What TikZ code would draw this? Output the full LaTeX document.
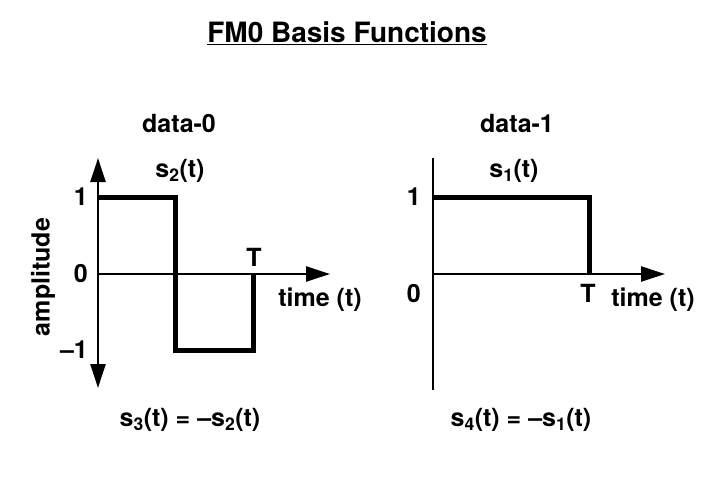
\documentclass[tikz,border=0pt]{standalone}
\usepackage{fontspec}
\setmainfont{TeX Gyre Heros}
\usetikzlibrary{arrows.meta}
\usetikzlibrary{positioning}

\tikzset{
  lbl/.style={font=\fontsize{25}{29}\selectfont\bfseries, inner sep=0pt},
  ttl/.style={font=\fontsize{28}{32}\selectfont\bfseries, inner sep=0pt},
  axisline/.style={line width=2.5pt},
  axisarrow/.style={axisline, -{Triangle[length=24pt,width=15pt]}},
  bothaxis/.style={axisline, {Triangle[length=24pt,width=15pt]}-{Triangle[length=24pt,width=15pt]}},
  signal/.style={line width=5pt, line cap=butt, line join=miter}
}

\begin{document}
\begin{tikzpicture}[x=1pt, y=-1pt]
\useasboundingbox (0,0) rectangle (708,480);

% Title
\node[ttl] (title) at (347,33) {\underline{FM0 Basis Functions}};

% data-0
\coordinate (orig0) at (98,274);
\coordinate (top0) at (98,158);
\coordinate (bot0) at (98,388);
\coordinate (end0) at (330,274);

\draw[bothaxis] (top0) -- (bot0);
\draw[axisarrow] (orig0) -- (end0);
\draw[signal] (98,197) -- (175,197) -- (175,350) -- (253,350) -- (253,274);

\node[lbl] (head0) at (179,123) {data-0};
\node[lbl] (sig2) at (180,171) {s\textsubscript{2}(t)};
\node[lbl, anchor=east] (one0) at (88,197) {1};
\node[lbl, anchor=east] (zero0) at (88,274) {0};
\node[lbl, anchor=east] (mone0) at (88,350) {–1};
\node[lbl, rotate=90] (amp) at (43,277) {amplitude};
\node[lbl] (T0) at (254,257) {T};
\node[lbl] (time0) at (320,300) {time (t)};
\node[lbl] (eq0) at (190,420) {s\textsubscript{3}(t) = –s\textsubscript{2}(t)};

% data-1
\coordinate (orig1) at (433,274);
\coordinate (top1) at (433,158);
\coordinate (bot1) at (433,390);
\coordinate (end1) at (665,274);

\draw[axisline] (top1) -- (bot1);
\draw[axisarrow] (orig1) -- (end1);
\draw[signal] (433,197) -- (589,197) -- (589,274);

\node[lbl] (head1) at (517,123) {data-1};
\node[lbl] (sig1) at (514,171) {s\textsubscript{1}(t)};
\node[lbl, anchor=east] (one1) at (421,197) {1};
\node[lbl, anchor=east] (zero1) at (421,294) {0};
\node[lbl] (T1) at (588,293) {T};
\node[lbl] (time1) at (653,300) {time (t)};
\node[lbl] (eq1) at (521,420) {s\textsubscript{4}(t) = –s\textsubscript{1}(t)};

\end{tikzpicture}
\end{document}
